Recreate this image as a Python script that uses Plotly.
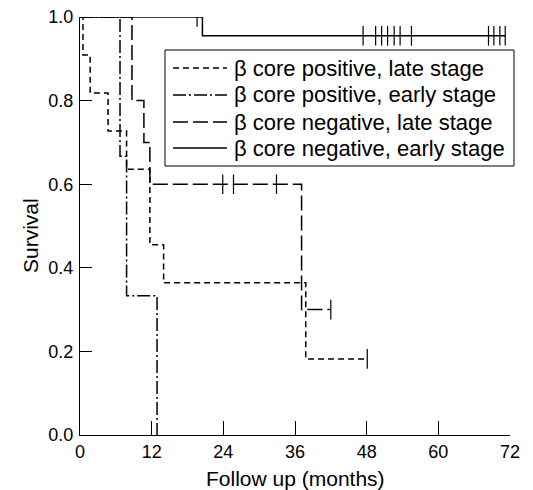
import plotly.graph_objects as go

# Kaplan-Meier step data (months, survival)
pos_late_t = [0, 0.5, 1.7, 4.7, 7.8, 11.7, 14.0, 37.8, 48.1]
pos_late_s = [1.0, 0.909, 0.818, 0.727, 0.636, 0.455, 0.364, 0.182, 0.182]
pos_late_c = [48.1]

pos_early_t = [0, 6.7, 7.8, 12.9]
pos_early_s = [1.0, 0.667, 0.333, 0.0]
pos_early_c = []

neg_late_t = [0, 8.7, 10.7, 11.7, 37.1, 42.0]
neg_late_s = [1.0, 0.8, 0.7, 0.6, 0.3, 0.3]
neg_late_c = [23.9, 25.7, 32.9, 42.0]

neg_early_t = [0, 20.5, 71.2]
neg_early_s = [1.0, 0.955, 0.955]
neg_early_c = [19.6, 47.4, 49.5, 50.5, 51.5, 52.6, 53.6, 55.5, 68.4, 69.3, 70.3, 71.2]

labels = ["β core positive, late stage", "β core positive, early stage",
          "β core negative, late stage", "β core negative, early stage"]
x_ticks = [0, 12, 24, 36, 48, 60, 72]
y_ticks = [0.0, 0.2, 0.4, 0.6, 0.8, 1.0]

FONT = "Liberation Sans, Arial, Helvetica, sans-serif"

# figure geometry (page body has an 8px margin)
W, H = 525, 482
ML, MR, MT, MB = 72, 23, 9, 55
PW, PH = W - ML - MR, H - MT - MB


def px(xv):  # viewport pixel x -> paper x
    return (xv - 8 - ML) / PW


def py(yv):  # viewport pixel y -> paper y
    return (H - MB - (yv - 8)) / PH


def step_value(ts, ss, t):
    v = ss[0]
    for ti, si in zip(ts, ss):
        if ti <= t:
            v = si
    return v


dashes = ["6px,4px", "13px,3px,2px,3px", "15px,5px", "solid"]
curves = [
    (pos_late_t, pos_late_s, pos_late_c),
    (pos_early_t, pos_early_s, pos_early_c),
    (neg_late_t, neg_late_s, neg_late_c),
    (neg_early_t, neg_early_s, neg_early_c),
]

fig = go.Figure()
for (ts, ss, cs), name, dash in zip(curves, labels, dashes):
    fig.add_trace(go.Scatter(
        x=ts, y=ss, mode="lines", name=name, showlegend=False,
        line=dict(color="black", width=1.5, dash=dash, shape="hv"),
    ))
for ts, ss, cs in curves:
    if cs:
        fig.add_trace(go.Scatter(
            x=cs, y=[step_value(ts, ss, c) for c in cs], mode="markers",
            showlegend=False,
            marker=dict(symbol="line-ns", size=14, color="black",
                        line=dict(color="black", width=1.2)),
        ))

# legend box drawn as shapes + text
shapes = [dict(type="rect", xref="paper", yref="paper",
               x0=px(165), x1=px(514), y0=py(166), y1=py(50),
               line=dict(color="black", width=1), fillcolor="white", layer="above")]
annotations = []
row_y = [68, 95, 122, 148]
for yv, name, dash in zip(row_y, labels, dashes):
    shapes.append(dict(type="line", xref="paper", yref="paper",
                       x0=px(173), x1=px(227), y0=py(yv), y1=py(yv),
                       line=dict(color="black", width=1.5, dash=dash), layer="above"))
    annotations.append(dict(xref="paper", yref="paper", x=px(232), y=py(yv),
                            xanchor="left", yanchor="middle", showarrow=False,
                            text=name, font=dict(size=22, family=FONT, color="black")))

# axis titles
annotations.append(dict(xref="paper", yref="paper", x=px(295), y=py(479),
                        xanchor="center", yanchor="middle", showarrow=False,
                        text="Follow up (months)", font=dict(size=21, family=FONT)))
annotations.append(dict(xref="paper", yref="paper", x=px(30), y=py(236),
                        xanchor="center", yanchor="middle", showarrow=False,
                        textangle=-90,
                        text="Survival", font=dict(size=21, family=FONT)))

fig.update_layout(
    width=W, height=H,
    margin=dict(l=ML, r=MR, t=MT, b=MB),
    paper_bgcolor="white", plot_bgcolor="white",
    font=dict(family=FONT, size=18, color="black"),
    showlegend=False,
    shapes=shapes, annotations=annotations,
    xaxis=dict(
        range=[0, 72], tickvals=x_ticks, ticktext=[str(v) for v in x_ticks],
        ticks="inside", ticklen=14, tickwidth=1, tickcolor="black",
        showline=True, linecolor="black", linewidth=1.2,
        showgrid=False, zeroline=False, automargin=False,
        tickfont=dict(size=18), ticklabelstandoff=0, ticklabeloverflow="allow",
    ),
    yaxis=dict(
        range=[0, 1.0], tickvals=y_ticks, ticktext=[f"{v:.1f}" for v in y_ticks],
        ticks="inside", ticklen=12, tickwidth=1, tickcolor="black",
        showline=True, linecolor="black", linewidth=1.2,
        showgrid=False, zeroline=False, automargin=False,
        tickfont=dict(size=18), ticklabelstandoff=2, ticklabeloverflow="allow",
    ),
)

fig.write_html("out.html")
